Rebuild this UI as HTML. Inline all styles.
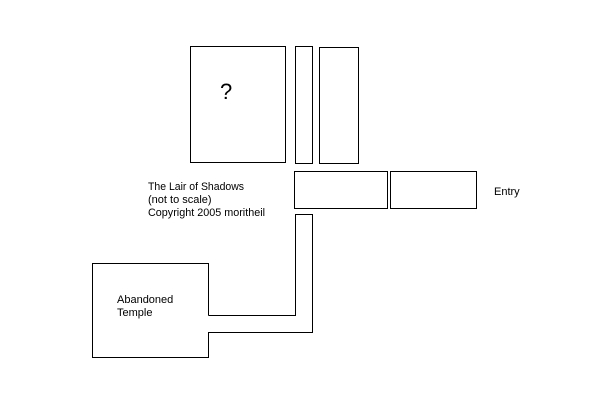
<!DOCTYPE html>
<html><head><meta charset="utf-8"><style>
html,body{margin:0;padding:0;background:#fff;}
svg{display:block;}
text{font-family:"Liberation Sans",sans-serif;font-size:11px;fill:#000;}
</style></head><body>
<svg width="600" height="400" viewBox="0 0 600 400" xmlns="http://www.w3.org/2000/svg">
<g fill="none" stroke="#000" stroke-width="1" shape-rendering="crispEdges">
<rect x="190.5" y="46.5" width="95" height="116"/>
<rect x="295.5" y="46.5" width="17" height="117"/>
<rect x="319.5" y="47.5" width="39" height="116"/>
<rect x="294.5" y="171.5" width="93" height="37"/>
<rect x="390.5" y="171.5" width="86" height="37"/>
<polyline points="208.5,315.5 208.5,263.5 92.5,263.5 92.5,357.5 208.5,357.5 208.5,332.5 312.5,332.5 312.5,214.5 295.5,214.5 295.5,315.5 208.5,315.5"/>
</g>
<text x="220" y="99" style="font-size:22px">?</text>
<text x="494" y="195">Entry</text>
<text x="148" y="190" textLength="96" lengthAdjust="spacingAndGlyphs">The Lair of Shadows</text>
<text x="148" y="203">(not to scale)</text>
<text x="148" y="216" textLength="117" lengthAdjust="spacingAndGlyphs">Copyright 2005 moritheil</text>
<text x="117" y="303">Abandoned</text>
<text x="117" y="316">Temple</text>
</svg>
</body></html>
